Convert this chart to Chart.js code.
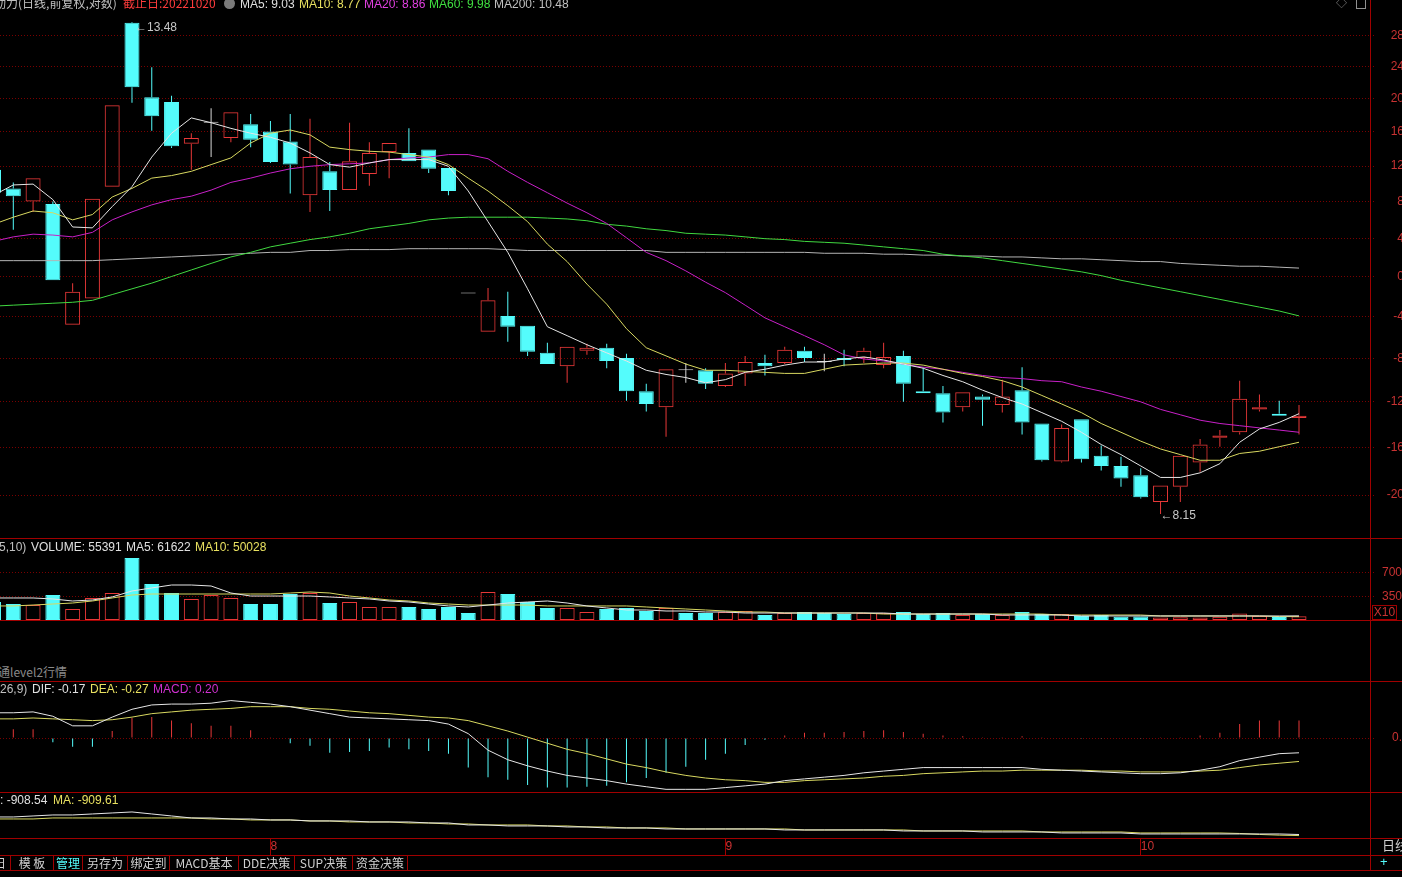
<!DOCTYPE html>
<html>
<head>
<meta charset="utf-8">
<script src="https://cdn.jsdelivr.net/npm/chart.js"></script>
<style>
  html, body { margin: 0; background: #000; overflow: hidden; }
  #wrap { position: relative; width: 1402px; height: 877px; overflow: hidden; background: #000;
          font-family: "Liberation Sans", Arial, "Noto Sans CJK SC", sans-serif; font-size: 12px; }
  canvas { position: absolute; left: 0; }
  .t { position: absolute; white-space: nowrap; line-height: 14px; }
  .cjk { font-family: "Noto Sans CJK SC", sans-serif; }
  .hl { position: absolute; left: 0; width: 1402px; height: 1px; background: #a00000; }
  .vl { position: absolute; width: 1px; background: #a00000; }
  .tab { position: absolute; top: 856px; height: 14px; line-height: 14px; border-right: 1px solid #a00000;
         text-align: center; color: #d0d0d0; font-family: "Noto Sans CJK SC", sans-serif; font-size: 12px; box-sizing: border-box; }
</style>
</head>
<body>
<div id="wrap">
  <canvas id="kline" width="1404" height="538" style="top:0"></canvas>
  <canvas id="vol" width="1404" height="81" style="top:539px"></canvas>
  <canvas id="macd" width="1404" height="110" style="top:682px"></canvas>
  <canvas id="lower" width="1404" height="62" style="top:793px"></canvas>

  <!-- 框线 -->
  <div class="hl" style="top:538px"></div>
  <div class="hl" style="top:620px"></div>
  <div class="hl" style="top:681px"></div>
  <div class="hl" style="top:792px"></div>
  <div class="hl" style="top:838px"></div>
  <div class="hl" style="top:855px"></div>
  <div class="hl" style="top:870px"></div>
  <div class="vl" style="left:1370px;top:0;height:870px"></div>

  <!-- 标题行 -->
  <div class="t cjk" style="left:-6px;top:-4px;color:#c0c0c0">动力(日线,前复权,对数)</div>
  <div class="t cjk" style="left:123px;top:-4px;color:#ff3c3c">截止日:20221020</div>
  <div style="position:absolute;left:224px;top:-2px;width:11px;height:11px;border-radius:50%;background:#7a7a7a"></div>
  <div class="t" style="left:240px;top:-3px;color:#e0e0e0">MA5: 9.03</div>
  <div class="t" style="left:299px;top:-3px;color:#e8e060">MA10: 8.77</div>
  <div class="t" style="left:364px;top:-3px;color:#e040e0">MA20: 8.86</div>
  <div class="t" style="left:429px;top:-3px;color:#40e040">MA60: 9.98</div>
  <div class="t" style="left:494px;top:-3px;color:#c0c0c0">MA200: 10.48</div>
  <div class="t" style="left:1336px;top:-4px;color:#909090;font-size:11px">◇</div>
  <div style="position:absolute;left:1356px;top:-1px;width:8px;height:8px;border:1px solid #909090"></div>

  <!-- 成交量 -->
  <div class="t" style="left:-1px;top:540px;color:#c0c0c0">5,10)</div>
  <div class="t" style="left:31px;top:540px;color:#e0e0e0">VOLUME: 55391</div>
  <div class="t" style="left:126px;top:540px;color:#e0e0e0">MA5: 61622</div>
  <div class="t" style="left:195px;top:540px;color:#e8e060">MA10: 50028</div>
  <div class="t" style="left:1372px;top:605px;width:23px;height:13px;line-height:13px;border:1px solid #a00000;color:#c83232;text-align:center">X10</div>

  <div class="t cjk" style="left:-2px;top:665px;color:#8a8a8a">通level2行情</div>

  <!-- MACD -->
  <div class="t" style="left:0;top:682px;color:#c0c0c0">26,9)</div>
  <div class="t" style="left:32px;top:682px;color:#e0e0e0">DIF: -0.17</div>
  <div class="t" style="left:90px;top:682px;color:#e8e060">DEA: -0.27</div>
  <div class="t" style="left:153px;top:682px;color:#d030d0">MACD: 0.20</div>

  <div class="t" style="left:0;top:793px;color:#e0e0e0">: -908.54</div>
  <div class="t" style="left:53px;top:793px;color:#e8e060">MA: -909.61</div>

  <!-- 右侧 -->
  <div class="t cjk" style="left:1382px;top:838px;color:#d0d0d0;font-size:13px">日线</div>
  <div class="t" style="left:1380px;top:855px;color:#54fcfc;font-size:13px">+</div>

  <!-- 按钮行 -->
  <div class="tab" style="left:-10px;width:21px">日</div>
  <div class="tab" style="left:11px;width:43px">模 板</div>
  <div class="tab" style="left:54px;width:29px;color:#54fcfc">管理</div>
  <div class="tab" style="left:83px;width:45px">另存为</div>
  <div class="tab" style="left:128px;width:42px">绑定到</div>
  <div class="tab" style="left:170px;width:69px">MACD基本</div>
  <div class="tab" style="left:239px;width:56px">DDE决策</div>
  <div class="tab" style="left:295px;width:58px">SUP决策</div>
  <div class="tab" style="left:353px;width:55px">资金决策</div>
</div>

<script>
// 交易日 (2022)
const dates = [
  '07-12','07-13','07-14','07-15','07-18','07-19','07-20','07-21','07-22','07-25','07-26','07-27','07-28','07-29',
  '08-01','08-02','08-03','08-04','08-05','08-08','08-09','08-10','08-11','08-12','08-15','08-16','08-17','08-18',
  '08-19','08-22','08-23','08-24','08-25','08-26','08-29','08-30','08-31',
  '09-01','09-02','09-05','09-06','09-07','09-08','09-09','09-13','09-14','09-15','09-16','09-19','09-20','09-21',
  '09-22','09-23','09-26','09-27','09-28','09-29','09-30',
  '10-10','10-11','10-12','10-13','10-14','10-17','10-18','10-19','10-20'
];

// K线
const open = [
  11.59, 11.37, 11.22, 11.19, 9.89, 10.16, 11.39, 13.47, 12.48, 12.42, 11.90, 12.16, 11.97, 12.14,
  12.05, 11.93, 11.29, 11.57, 11.35, 11.54, 11.80, 11.79, 11.83, 11.61, 10.21, 9.82, 9.98, 9.88, 9.61, 9.48, 9.63, 9.66, 9.56, 9.24, 9.09, 9.44, 9.44,
  9.29, 9.41, 9.51, 9.51, 9.63, 9.52, 9.56, 9.56, 9.49, 9.58, 9.24, 9.22, 9.09, 9.19, 9.11, 9.25, 8.94, 8.60, 8.98, 8.65, 8.56,
  8.48, 8.25, 8.38, 8.59, 8.81, 8.86, 9.07, 9.03, 8.99
];
const high = [
  11.59, 11.44, 11.49, 11.22, 10.32, 11.25, 12.38, 13.48, 12.87, 12.50, 12.03, 12.34, 12.29, 12.27,
  12.18, 12.27, 12.21, 11.68, 12.16, 11.92, 11.91, 12.09, 11.83, 11.61, 10.21, 10.27, 10.23, 9.88, 9.71, 9.67, 9.70, 9.70, 9.60, 9.31, 9.45, 9.51, 9.46,
  9.51, 9.58, 9.59, 9.67, 9.67, 9.60, 9.64, 9.66, 9.71, 9.63, 9.47, 9.29, 9.23, 9.21, 9.35, 9.47, 8.94, 8.93, 8.98, 8.74, 8.64,
  8.54, 8.39, 8.65, 8.80, 8.88, 9.34, 9.21, 9.15, 9.11
];
const low = [
  11.30, 10.90, 11.10, 10.35, 9.89, 10.16, 11.39, 12.41, 12.06, 11.85, 11.59, 11.74, 11.92, 11.86,
  11.67, 11.31, 11.10, 11.11, 11.35, 11.40, 11.49, 11.69, 11.55, 11.29, 10.21, 9.82, 9.72, 9.58, 9.50, 9.32, 9.59, 9.46, 9.15, 9.05, 8.82, 9.32, 9.26,
  9.28, 9.29, 9.39, 9.50, 9.52, 9.43, 9.48, 9.51, 9.46, 9.14, 9.22, 8.95, 9.05, 8.92, 9.04, 8.84, 8.60, 8.59, 8.59, 8.52, 8.38,
  8.28, 8.15, 8.25, 8.51, 8.73, 8.84, 9.05, 9.01, 8.84
];
const close = [
  11.32, 11.28, 11.49, 10.35, 10.23, 11.25, 12.38, 12.61, 12.24, 11.87, 11.97, 12.16, 12.29, 11.95,
  11.68, 11.65, 11.74, 11.35, 11.69, 11.79, 11.91, 11.69, 11.60, 11.34, 10.21, 10.14, 9.87, 9.62, 9.50, 9.67, 9.66, 9.53, 9.24, 9.12, 9.45, 9.44, 9.31,
  9.41, 9.52, 9.48, 9.64, 9.56, 9.52, 9.54, 9.63, 9.57, 9.31, 9.22, 9.04, 9.23, 9.16, 9.19, 8.95, 8.61, 8.90, 8.62, 8.56, 8.45,
  8.29, 8.39, 8.65, 8.75, 8.83, 9.17, 9.09, 9.01, 9.01
];

// 均线
const ma5 = [
  11.29, 11.41, 11.42, 11.24, 10.93, 10.92, 11.16, 11.39, 11.74, 12.03, 12.22, 12.16, 12.09, 12.03,
  11.98, 11.91, 11.79, 11.65, 11.62, 11.67, 11.71, 11.71, 11.71, 11.63, 11.34, 10.99, 10.65, 10.26, 9.87, 9.78, 9.69, 9.61, 9.53, 9.44, 9.40, 9.37, 9.32,
  9.35, 9.42, 9.45, 9.49, 9.52, 9.52, 9.55, 9.57, 9.54, 9.50, 9.46, 9.39, 9.33, 9.25, 9.18, 9.12, 9.04, 8.96, 8.86, 8.75, 8.66,
  8.56, 8.46, 8.46, 8.50, 8.58, 8.77, 8.89, 8.95, 9.03
];
const ma10 = [
  10.96, 11.04, 11.11, 11.09, 11.01, 11.07, 11.27, 11.37, 11.49, 11.52, 11.57, 11.65, 11.73, 11.91,
  12.03, 12.07, 12.01, 11.86, 11.83, 11.81, 11.80, 11.77, 11.74, 11.65, 11.49, 11.34, 11.17, 10.99, 10.74, 10.55, 10.31, 10.10, 9.85, 9.66, 9.58, 9.50, 9.44,
  9.44, 9.43, 9.42, 9.41, 9.41, 9.45, 9.49, 9.50, 9.51, 9.51, 9.49, 9.45, 9.41, 9.38, 9.34, 9.28, 9.20, 9.12, 9.04, 8.94, 8.86,
  8.78, 8.71, 8.66, 8.61, 8.61, 8.67, 8.69, 8.73, 8.77
];
const ma20 = [
  10.77, 10.82, 10.85, 10.84, 10.82, 10.87, 11.01, 11.10, 11.18, 11.24, 11.28, 11.35, 11.44, 11.49,
  11.55, 11.60, 11.63, 11.65, 11.66, 11.67, 11.71, 11.73, 11.74, 11.77, 11.77, 11.72, 11.57, 11.44, 11.32, 11.20, 11.09, 10.97, 10.81, 10.65, 10.56, 10.45, 10.33,
  10.22, 10.09, 9.96, 9.87, 9.78, 9.69, 9.59, 9.55, 9.53, 9.50, 9.47, 9.45, 9.42, 9.39, 9.37, 9.36, 9.34, 9.33, 9.28, 9.24, 9.19,
  9.14, 9.07, 9.02, 8.97, 8.94, 8.92, 8.90, 8.88, 8.86
];
const ma60 = [
  10.08, 10.09, 10.10, 10.11, 10.12, 10.14, 10.20, 10.26, 10.32, 10.39, 10.46, 10.53, 10.60, 10.65,
  10.71, 10.75, 10.79, 10.82, 10.86, 10.91, 10.94, 10.97, 11.01, 11.03, 11.04, 11.04, 11.04, 11.04, 11.03, 11.02, 11.00, 10.96, 10.94, 10.91, 10.89, 10.86, 10.85,
  10.84, 10.82, 10.80, 10.79, 10.77, 10.76, 10.75, 10.73, 10.71, 10.69, 10.67, 10.63, 10.61, 10.59, 10.56, 10.53, 10.50, 10.47, 10.44, 10.40, 10.35,
  10.31, 10.27, 10.23, 10.19, 10.15, 10.11, 10.07, 10.03, 9.98
];
const ma200 = [
  10.56, 10.56, 10.56, 10.56, 10.56, 10.56, 10.57, 10.58, 10.59, 10.60, 10.61, 10.62, 10.63, 10.64,
  10.65, 10.65, 10.67, 10.67, 10.68, 10.68, 10.68, 10.69, 10.69, 10.69, 10.69, 10.69, 10.68, 10.67, 10.67, 10.67, 10.67, 10.67, 10.67, 10.67, 10.65, 10.65, 10.65,
  10.65, 10.65, 10.65, 10.65, 10.65, 10.64, 10.64, 10.64, 10.63, 10.63, 10.62, 10.62, 10.61, 10.61, 10.60, 10.60, 10.59, 10.58, 10.58, 10.57, 10.56,
  10.55, 10.55, 10.53, 10.52, 10.51, 10.50, 10.50, 10.49, 10.48
];

// 成交量 (手)
const volume = [
  268000, 238000, 223000, 372000, 164000, 328000, 402000, 923000, 536000, 402000, 313000, 372000, 328000, 238000,
  238000, 387000, 402000, 253000, 268000, 194000, 194000, 194000, 164000, 194000, 104000, 417000, 387000, 268000, 179000, 179000, 119000, 164000, 179000, 134000, 179000, 104000, 104000,
  119000, 134000, 74000, 104000, 119000, 104000, 89000, 104000, 104000, 119000, 89000, 104000, 74000, 89000, 74000, 119000, 89000, 89000, 60000, 74000, 50000,
  52000, 38000, 40000, 36000, 48000, 96000, 58000, 46000, 55391
];
const volMa5 = [
  328000, 328000, 328000, 313000, 283000, 298000, 343000, 432000, 477000, 521000, 521000, 506000, 402000, 357000,
  357000, 357000, 357000, 343000, 328000, 313000, 283000, 268000, 238000, 209000, 194000, 223000, 253000, 268000, 283000, 253000, 209000, 179000, 149000, 149000, 134000, 134000, 119000,
  119000, 104000, 104000, 104000, 104000, 104000, 104000, 104000, 104000, 89000, 89000, 89000, 89000, 89000, 74000, 74000, 74000, 74000, 60000, 60000, 60000,
  60000, 60000, 60000, 60000, 60000, 60000, 60000, 60000, 61622
];
const volMa10 = [
  209000, 209000, 223000, 238000, 253000, 283000, 328000, 372000, 387000, 387000, 387000, 387000, 387000, 387000,
  387000, 402000, 417000, 402000, 357000, 328000, 298000, 283000, 253000, 238000, 223000, 223000, 223000, 223000, 209000, 209000, 209000, 209000, 209000, 194000, 179000, 164000, 149000,
  134000, 119000, 119000, 104000, 104000, 104000, 104000, 104000, 89000, 89000, 89000, 89000, 89000, 89000, 89000, 89000, 89000, 74000, 74000, 74000, 74000,
  74000, 60000, 60000, 60000, 60000, 60000, 60000, 51000, 50028
];

// MACD
const dif = [
  0.29, 0.29, 0.30, 0.25, 0.14, 0.14, 0.24, 0.33, 0.38, 0.39, 0.39, 0.40, 0.43, 0.41,
  0.39, 0.36, 0.32, 0.28, 0.24, 0.23, 0.22, 0.21, 0.20, 0.16, 0.05, -0.14, -0.25, -0.32, -0.38, -0.43, -0.46, -0.49, -0.53, -0.56, -0.59, -0.59, -0.59,
  -0.57, -0.55, -0.53, -0.49, -0.47, -0.45, -0.43, -0.40, -0.38, -0.36, -0.34, -0.34, -0.34, -0.34, -0.34, -0.34, -0.36, -0.37, -0.38, -0.39, -0.40,
  -0.41, -0.41, -0.40, -0.37, -0.33, -0.26, -0.22, -0.18, -0.17
];
const dea = [
  0.22, 0.22, 0.23, 0.22, 0.21, 0.20, 0.21, 0.24, 0.28, 0.30, 0.32, 0.33, 0.34, 0.36,
  0.36, 0.36, 0.34, 0.33, 0.31, 0.29, 0.28, 0.26, 0.24, 0.23, 0.20, 0.14, 0.08, 0.01, -0.06, -0.13, -0.18, -0.24, -0.30, -0.34, -0.39, -0.43, -0.46,
  -0.48, -0.49, -0.51, -0.51, -0.49, -0.48, -0.47, -0.46, -0.44, -0.43, -0.41, -0.40, -0.39, -0.38, -0.38, -0.37, -0.37, -0.37, -0.37, -0.38, -0.38,
  -0.39, -0.39, -0.39, -0.38, -0.37, -0.34, -0.31, -0.29, -0.27
];
const macd = [
  0.10, 0.10, 0.10, -0.05, -0.10, -0.10, 0.08, 0.23, 0.24, 0.20, 0.17, 0.14, 0.14, 0.09,
  0.01, -0.06, -0.09, -0.17, -0.16, -0.15, -0.11, -0.13, -0.15, -0.18, -0.34, -0.45, -0.48, -0.54, -0.57, -0.57, -0.56, -0.55, -0.51, -0.46, -0.40, -0.33, -0.25,
  -0.18, -0.08, -0.02, 0.03, 0.06, 0.06, 0.07, 0.08, 0.09, 0.07, 0.05, 0.03, 0.02, 0.01, 0.01, 0.02, 0.01, 0.00, -0.01, -0.01, 0.00,
  -0.01, 0.01, 0.01, 0.03, 0.06, 0.16, 0.20, 0.20, 0.20
];

// 底部指标
const lowerVal = [
  -891.0, -891.0, -890.0, -889.0, -889.0, -888.0, -887.0, -886.0, -888.0, -890.0, -892.0, -892.0, -893.0, -893.0,
  -894.0, -894.0, -895.0, -895.0, -895.0, -896.0, -896.0, -896.0, -897.0, -897.0, -899.0, -899.0, -900.0, -900.0, -900.0, -901.0, -901.0, -902.0, -902.0, -902.0, -903.0, -903.0, -903.0,
  -903.0, -903.0, -903.0, -904.0, -904.0, -904.0, -904.0, -904.0, -904.0, -905.0, -905.0, -905.0, -905.0, -906.0, -906.0, -906.0, -906.0, -907.0, -907.0, -907.0, -907.0,
  -908.0, -908.0, -908.0, -908.0, -908.0, -908.0, -908.0, -908.0, -908.54
];
const lowerMa = [
  -893.0, -893.0, -893.0, -892.0, -892.0, -892.0, -892.0, -892.0, -892.0, -892.0, -892.0, -893.0, -893.0, -894.0,
  -894.0, -894.0, -895.0, -895.0, -896.0, -896.0, -896.0, -897.0, -897.0, -898.0, -898.0, -899.0, -899.0, -899.0, -900.0, -900.0, -901.0, -901.0, -902.0, -902.0, -902.0, -903.0, -903.0,
  -903.0, -903.0, -903.0, -903.0, -904.0, -904.0, -904.0, -904.0, -904.0, -904.0, -905.0, -905.0, -905.0, -905.0, -905.0, -905.0, -906.0, -906.0, -906.0, -906.0, -906.0,
  -907.0, -907.0, -907.0, -907.0, -907.0, -907.5, -908.5, -909.2, -909.61
];

// 刻度
const basePrice = 10.385;   // 0% 对应价格
const pctTicks = [28, 24, 20, 16, 12, 8, 4, 0, -4, -8, -12, -16, -20];
const volTicks = [350000, 700000];
const macdTicks = [0];

const RED = '#e83838', CYAN = '#54fcfc', WHITE = '#d8d8d8';
const GRID = '#7a0000', AXIS_TXT = '#c83232';

Chart.defaults.font.family = '"Liberation Sans", Arial, sans-serif';
Chart.defaults.font.size = 12;
Chart.defaults.animation = false;
Chart.defaults.plugins.legend.display = false;
Chart.defaults.plugins.tooltip.enabled = false;

// 第一根完整K线中心在 x=13.3px，间距 19.78px
const X_MIN = 1 - 13.3 / 19.78;
const X_MAX = 1 + (1370 - 13.3) / 19.78;
const AXIS_W = 34;
const idx = dates.map((d, i) => i);
const pts = arr => arr.map((v, i) => ({ x: i, y: v }));

const dir = i => close[i] > open[i] ? 1 : close[i] < open[i] ? -1 : 0;
const candleCol = i => [CYAN, WHITE, RED][dir(i) + 1];
const volUp = i => dir(i) !== 0 ? dir(i) > 0 : !(i > 0 && close[i] < close[i - 1]);

function xHidden() {
  return { type: 'linear', min: X_MIN, max: X_MAX, offset: false, display: false };
}
// align: 'far' = 右对齐贴边, 'near' = 左对齐 (距轴线 6 + pad)
function yRight(type, min, max, tickVals, fmt, align, pad) {
  return {
    type, position: 'right', min, max, bounds: 'data',
    afterBuildTicks: s => { s.ticks = tickVals.map(v => ({ value: v })); },
    afterFit: s => { s.width = AXIS_W; s.paddingTop = 0; s.paddingBottom = 0; },
    ticks: { callback: (v, i) => fmt(i), color: AXIS_TXT, padding: pad, crossAlign: align, autoSkip: false },
    grid: { color: GRID, tickLength: 6, tickBorderDash: [1, 2] },
    border: { display: false, dash: [1, 2] }
  };
}
function line(arr, color) {
  return { type: 'line', data: pts(arr), borderColor: color, borderWidth: 1, pointRadius: 0, tension: 0, order: 0 };
}

// 最高/最低价标注
const hiLo = {
  id: 'hiLo',
  afterDatasetsDraw(chart) {
    const { ctx, scales: { x, y } } = chart;
    let hi = 1, lo = 1;
    for (let i = 1; i < high.length; i++) {
      if (high[i] > high[hi]) hi = i;
      if (low[i] < low[lo]) lo = i;
    }
    ctx.save();
    ctx.font = '12px "Liberation Sans", Arial';
    ctx.fillStyle = '#c8c8c8';
    ctx.textBaseline = 'middle';
    ctx.fillText('←' + high[hi].toFixed(2), x.getPixelForValue(hi) + 3, y.getPixelForValue(high[hi]) + 6);
    ctx.fillText('←' + low[lo].toFixed(2), x.getPixelForValue(lo), y.getPixelForValue(low[lo]) + 2);
    ctx.restore();
  }
};

new Chart(document.getElementById('kline'), {
  type: 'bar',
  data: {
    datasets: [
      line(ma5, '#e6e6e6'),
      line(ma10, '#d8d860'),
      line(ma20, '#c820c8'),
      line(ma60, '#40d840'),
      line(ma200, '#b4b4b4'),
      {
        data: idx.map(i => ({ x: i, y: [open[i], close[i]] })),
        backgroundColor: c => dir(c.dataIndex) < 0 ? CYAN : 'rgba(0,0,0,0)',
        borderColor: c => candleCol(c.dataIndex),
        borderWidth: 1, borderSkipped: false, barThickness: 15, minBarLength: 1,
        inflateAmount: 0, grouped: false, order: 1
      },
      {
        data: idx.map(i => ({ x: i, y: [Math.max(open[i], close[i]), high[i]] })),
        backgroundColor: c => candleCol(c.dataIndex),
        borderWidth: 0, barThickness: 1, inflateAmount: 0, grouped: false, order: 2
      },
      {
        data: idx.map(i => ({ x: i, y: [low[i], Math.min(open[i], close[i])] })),
        backgroundColor: c => candleCol(c.dataIndex),
        borderWidth: 0, barThickness: 1, inflateAmount: 0, grouped: false, order: 2
      }
    ]
  },
  options: {
    responsive: false, devicePixelRatio: 1,
    scales: {
      x: xHidden(),
      y: yRight('logarithmic', 7.952, 13.786, pctTicks.map(p => basePrice * (1 + p / 100)), i => String(pctTicks[i]), 'far', 8)
    }
  },
  plugins: [hiLo]
});

new Chart(document.getElementById('vol'), {
  type: 'bar',
  data: {
    datasets: [
      line(volMa5, '#e6e6e6'),
      line(volMa10, '#d8d860'),
      {
        data: pts(volume),
        backgroundColor: c => volUp(c.dataIndex) ? 'rgba(0,0,0,0)' : CYAN,
        borderColor: c => volUp(c.dataIndex) ? RED : CYAN,
        borderWidth: 1, borderSkipped: false, barThickness: 15, inflateAmount: 0, grouped: false, order: 1
      }
    ]
  },
  options: {
    responsive: false, devicePixelRatio: 1,
    scales: {
      x: xHidden(),
      y: yRight('linear', 0, 1206000, volTicks, i => String(volTicks[i] / 1000), 'near', 6)
    }
  }
});

new Chart(document.getElementById('macd'), {
  type: 'bar',
  data: {
    datasets: [
      line(dif, '#e6e6e6'),
      line(dea, '#d8d860'),
      {
        data: pts(macd),
        backgroundColor: c => macd[c.dataIndex] >= 0 ? RED : CYAN,
        borderWidth: 0, barThickness: 1, inflateAmount: 0, grouped: false, order: 1
      }
    ]
  },
  options: {
    responsive: false, devicePixelRatio: 1,
    scales: {
      x: xHidden(),
      y: yRight('linear', -0.6207, 0.6437, macdTicks, i => macdTicks[i].toFixed(2), 'near', 16)
    }
  }
});

// 月份刻度
const monthStarts = idx.filter(i => i > 0 && dates[i].slice(0, 2) !== dates[i - 1].slice(0, 2));

new Chart(document.getElementById('lower'), {
  type: 'line',
  data: {
    datasets: [
      line(lowerVal, '#e6e6e6'),
      line(lowerMa, '#d8d860')
    ]
  },
  options: {
    responsive: false, devicePixelRatio: 1,
    layout: { padding: { right: AXIS_W } },
    scales: {
      x: {
        type: 'linear', min: X_MIN, max: X_MAX, offset: false, position: 'bottom',
        afterBuildTicks: s => { s.ticks = monthStarts.map(i => ({ value: i })); },
        afterFit: s => { s.height = 17; s.paddingLeft = 0; s.paddingRight = 0; },
        ticks: { callback: v => String(+dates[v].slice(0, 2)), align: 'start', padding: -16, color: AXIS_TXT, autoSkip: false, maxRotation: 0 },
        grid: { drawOnChartArea: false, tickLength: 17, color: '#a00000' },
        border: { display: false }
      },
      y: { display: false, min: -912.04, max: -867.04 }
    }
  }
});
</script>
</body>
</html>
